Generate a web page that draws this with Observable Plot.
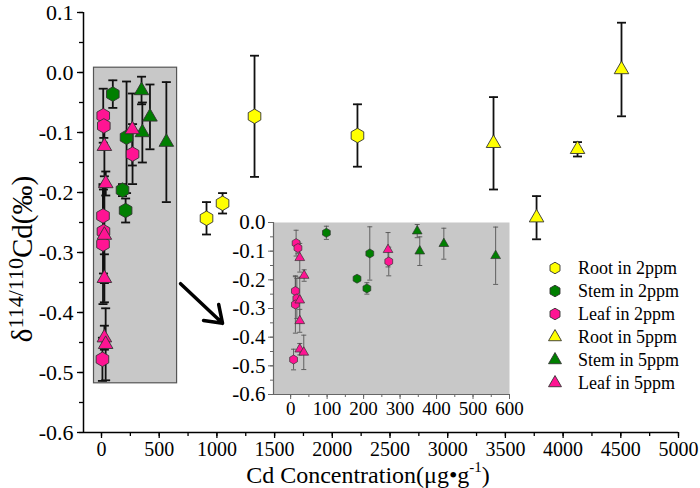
<!DOCTYPE html>
<html><head><meta charset="utf-8">
<script src="https://cdn.jsdelivr.net/npm/d3@7"></script>
<script src="https://cdn.jsdelivr.net/npm/@observablehq/plot@0.6"></script>
<style>
html,body{margin:0;padding:0;background:#fff;}
#wrap{position:relative;width:700px;height:488px;overflow:hidden;}
#main{position:absolute;left:0;top:0;}
#inset{position:absolute;left:228px;top:212px;}
#wrap svg, #wrap svg text { font-family: "Liberation Serif", "Times New Roman", "DejaVu Serif", serif !important; }
</style></head>
<body><div id="wrap"><div id="main"></div><div id="inset"></div></div>
<script>
// ---------------- data ----------------
const seriesNames = ["Root in 2ppm","Stem in 2ppm","Leaf in 2ppm","Root in 5ppm","Stem in 5ppm","Leaf in 5ppm"];
const seriesColors = ["#ffff00","#007f00","#ff1493","#ffff00","#007f00","#ff1493"];
const seriesSymbols = ["hexagon","hexagon","hexagon","triangle","triangle","triangle"];
// [Cd concentration (µg/g), δ114/110Cd (‰), error]
const root2ppm = [[910,-0.243,0.027],[1049,-0.218,0.017],[1326,-0.073,0.101],[2218,-0.105,0.052]];
const stem2ppm = [[98,-0.036,0.023],[182,-0.196,0.01],[217,-0.108,0.093],[209,-0.230,0.02]];
const leaf2ppm = [[15,-0.072,0.045],[20,-0.089,0.02],[13,-0.239,0.05],[17,-0.265,0.07],[13,-0.286,0.1],[8,-0.478,0.036],[269,-0.136,0.05]];
const root5ppm = [[3397,-0.118,0.077],[3770,-0.242,0.036],[4125,-0.128,0.012],[4506,0.005,0.078]];
const stem5ppm = [[347,-0.030,0.023],[354,-0.100,0.05],[420,-0.074,0.054],[562,-0.116,0.1]];
const leaf5ppm = [[25,-0.123,0.05],[37,-0.185,0.02],[25,-0.271,0.08],[25,-0.343,0.04],[25,-0.442,0.02],[36,-0.453,0.06],[267,-0.095,0.06]];

const xMajorTicks = [0,500,1000,1500,2000,2500,3000,3500,4000,4500,5000];
const yMajorTicks = [0.1,0,-0.1,-0.2,-0.3,-0.4,-0.5,-0.6];
const insetXTicks = [0,100,200,300,400,500,600];
const insetYTicks = [0,-0.1,-0.2,-0.3,-0.4,-0.5,-0.6];
const zoomBoxX = [-65, 655];
const zoomBoxY = [-0.518, 0.008];
const arrowFrom = [685, -0.352];
const arrowTo = [1049, -0.418];

// ---------------- helpers ----------------
const allSeries = [root2ppm, stem2ppm, leaf2ppm, root5ppm, stem5ppm, leaf5ppm];
const rowsOf = i => allSeries[i].map(([x,y,e]) => ({x, y, e, lo: y - e, hi: y + e}));
const capSymbol = w => ({draw(ctx){ ctx.moveTo(-w,0); ctx.lineTo(w,0); }});
const fmt1 = d => (Math.abs(d) < 1e-9 ? "0.0" : d.toFixed(1));
const font = "Liberation Serif, Times New Roman, serif";

function seriesMarks(i, opt) {
  const rows = rowsOf(i).filter(d => d.x <= opt.xmax);
  return [
    Plot.ruleX(rows, {x:"x", y1:"lo", y2:"hi", stroke:opt.barColor, strokeWidth:opt.barWidth}),
    Plot.dot(rows, {x:"x", y:"hi", symbol:capSymbol(opt.cap), r:3, fill:"none", stroke:opt.barColor, strokeWidth:opt.barWidth}),
    Plot.dot(rows, {x:"x", y:"lo", symbol:capSymbol(opt.cap), r:3, fill:"none", stroke:opt.barColor, strokeWidth:opt.barWidth})
  ];
}
function dotMarks(i, opt) {
  const rows = rowsOf(i).filter(d => d.x <= opt.xmax);
  return Plot.dot(rows, {x:"x", y:"y", symbol:seriesSymbols[i],
    r: seriesSymbols[i] === "hexagon" ? opt.rHex : opt.rTri,
    fill: seriesColors[i], stroke:"#333", strokeWidth:opt.dotStroke});
}

// ---------------- main chart ----------------
const xMinor = d3.range(0, 5001, 250);
const yMinor = d3.range(-12, 3).map(k => k * 0.05);
const mainOpt = {xmax: 5000, barColor:"#111", barWidth:1.8, cap:4.5, rHex:6.3, rTri:5.4, dotStroke:0.9};
const main = Plot.plot({
  width:700, height:488, marginLeft:83, marginRight:22, marginTop:12, marginBottom:56,
  style:{fontFamily:font, fontSize:"20px", color:"#000", background:"transparent", overflow:"visible"},
  x:{domain:[-156,5000]},
  y:{domain:[-0.6,0.1]},
  marks:[
    Plot.rect([{x1:zoomBoxX[0], x2:zoomBoxX[1], y1:zoomBoxY[0], y2:zoomBoxY[1]}], {x1:"x1", x2:"x2", y1:"y1", y2:"y2", fill:"#c8c8c8", stroke:"#555", strokeWidth:1.2}),
    Plot.axisX({ticks:xMinor, tickSize:4, tickFormat:()=>"", label:null, stroke:"#000", strokeWidth:1.3}),
    Plot.axisX({ticks:xMajorTicks, tickSize:6, tickPadding:3, tickFormat:d=>String(d), label:null, fontSize:20, stroke:"#000", strokeWidth:1.3}),
    Plot.axisY({ticks:yMinor, tickSize:4, tickFormat:()=>"", label:null, stroke:"#000", strokeWidth:1.3}),
    Plot.axisY({ticks:yMajorTicks, tickSize:6, tickPadding:4, tickFormat:fmt1, label:null, fontSize:22, stroke:"#000", strokeWidth:1.3}),
    Plot.ruleY([-0.6], {stroke:"#000", strokeWidth:1.5}),
    Plot.ruleX([-156], {stroke:"#000", strokeWidth:1.5}),
    Plot.arrow([{x1:arrowFrom[0], y1:arrowFrom[1], x2:arrowTo[0], y2:arrowTo[1]}], {x1:"x1", y1:"y1", x2:"x2", y2:"y2", stroke:"#000", strokeWidth:3.5, headLength:11, headAngle:70}),
    ...[0,1,2,3,4,5].flatMap(i => seriesMarks(i, mainOpt)),
    ...[0,1,2,3,4,5].map(i => dotMarks(i, mainOpt))
  ]
});
document.getElementById("main").appendChild(main);

// axis titles & legend
const svg = d3.select(main);
const xt = svg.append("text").attr("x",368).attr("y",483).attr("text-anchor","middle")
  .attr("font-size",24).attr("fill","#000");
xt.append("tspan").text("Cd Concentration(μg•g");
xt.append("tspan").attr("dy",-11).attr("font-size",15).text("-1");
xt.append("tspan").attr("dy",11).attr("font-size",24).text(")");

const yt = svg.append("text").attr("transform","translate(32,259) rotate(-90)").attr("text-anchor","middle")
  .attr("font-size",29).attr("fill","#000");
yt.append("tspan").text("δ");
yt.append("tspan").attr("dy",-9).attr("font-size",22).text("114/110");
yt.append("tspan").attr("dy",9).attr("font-size",29).text("Cd(‰)");

const hexPath = r => { const ry = r * 2 / Math.sqrt(3), hy = ry / 2;
  return `M0,${ry}L${r},${hy}L${r},${-hy}L0,${-ry}L${-r},${-hy}L${-r},${hy}Z`; };
const lg = svg.append("g").attr("font-size",18).attr("text-anchor","start");
seriesNames.forEach((name,i) => {
  const g = lg.append("g").attr("transform",`translate(555,${268 + i*23})`);
  const p = seriesSymbols[i] === "hexagon" ? hexPath(5) : d3.symbol(d3.symbolTriangle, Math.PI*4.8*4.8)();
  g.append("path").attr("d",p).attr("fill",seriesColors[i]).attr("stroke","#333").attr("stroke-width",0.9);
  g.append("text").attr("x",23).attr("dy","0.35em").attr("text-anchor","start").attr("fill","#000").text(name);
});

// ---------------- inset ----------------
const insetOpt = {xmax: 600, barColor:"#555", barWidth:0.9, cap:2.5, rHex:3.9, rTri:3.6, dotStroke:0.7};
const inset = Plot.plot({
  width:296, height:212, marginLeft:45, marginRight:15, marginTop:10, marginBottom:30,
  style:{fontFamily:font, fontSize:"19px", color:"#000", background:"transparent", overflow:"visible"},
  x:{domain:[-47,600]},
  y:{domain:[-0.6,0]},
  marks:[
    Plot.frame({fill:"#c8c8c8", stroke:null}),
    Plot.axisX({ticks:d3.range(0,601,50), tickSize:3, tickFormat:()=>"", label:null, stroke:"#666"}),
    Plot.axisX({ticks:insetXTicks, tickSize:5, tickPadding:2, tickFormat:d=>String(d), label:null, fontSize:19, stroke:"#666"}),
    Plot.axisY({ticks:d3.range(-12,1).map(k=>k*0.05), tickSize:3, tickFormat:()=>"", label:null, stroke:"#666"}),
    Plot.axisY({ticks:insetYTicks, tickSize:5, tickPadding:3, tickFormat:fmt1, label:null, fontSize:21, stroke:"#666"}),
    Plot.ruleY([-0.6], {stroke:"#666", strokeWidth:1.2}),
    Plot.ruleX([-47], {stroke:"#666", strokeWidth:1.2}),
    ...[0,1,2,3,4,5].flatMap(i => seriesMarks(i, insetOpt)),
    ...[0,1,2,3,4,5].map(i => dotMarks(i, insetOpt))
  ]
});
document.getElementById("inset").appendChild(inset);
</script>
</body></html>
